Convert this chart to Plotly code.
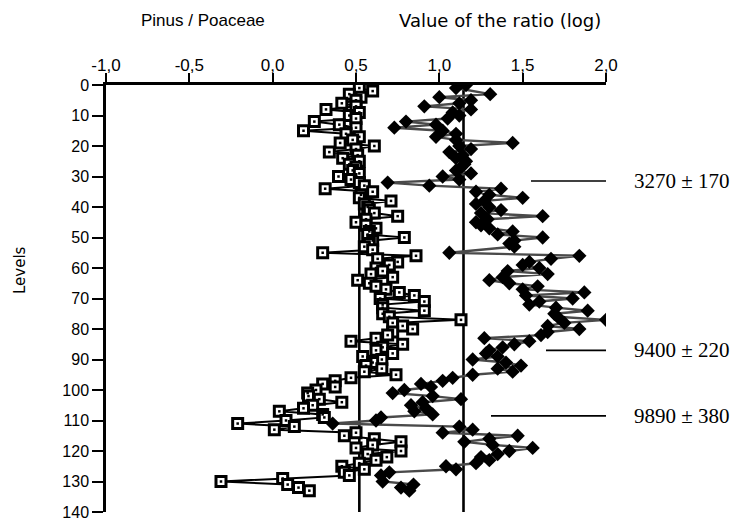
import plotly.graph_objects as go

# ---- data ----
SQ_LEVELS = [1, 2, 3, 4, 5, 6, 7, 8, 9, 10, 11, 12, 13, 14, 15, 16, 17, 18, 19, 20,
             21, 22, 23, 24, 25, 26, 27, 28, 29, 30, 31, 32, 33, 34, 35, 36, 37, 38, 39, 40,
             41, 42, 43, 44, 45, 46, 47, 48, 49, 50, 51, 52, 53, 54, 55, 56, 57, 58, 59, 60,
             61, 62, 63, 64, 65, 66, 67, 68, 69, 70, 71, 72, 73, 74, 75, 76, 77, 78, 79, 80,
             81, 82, 83, 84, 85, 86, 87, 88, 89, 90, 91, 92, 93, 94, 95, 96, 97, 98, 99, 100,
             101, 102, 103, 104, 105, 106, 107, 108, 109, 110, 111, 112, 113, 114, 115, 116,
             117, 118, 119, 120, 121, 122, 123, 124, 125, 126, 127, 128, 129, 130, 131, 132, 133]
SQ_VALUES = [0.52, 0.60, 0.46, 0.53, 0.50, 0.415, 0.50, 0.32, 0.52, 0.46,
             0.50, 0.25, 0.40, 0.50, 0.185, 0.44, 0.52, 0.48, 0.405, 0.61,
             0.50, 0.34, 0.51, 0.42, 0.52, 0.46, 0.50, 0.48, 0.52, 0.395,
             0.47, 0.52, 0.55, 0.315, 0.60, 0.53, 0.52, 0.71, 0.55, 0.57,
             0.58, 0.61, 0.75, 0.56, 0.50, 0.56, 0.62, 0.58, 0.57, 0.79,
             0.60, 0.58, 0.55, 0.60, 0.30, 0.86, 0.63, 0.75, 0.70, 0.62,
             0.66, 0.59, 0.72, 0.51, 0.58, 0.62, 0.68, 0.76, 0.85, 0.645,
             0.91, 0.66, 0.66, 0.91, 0.66, 0.70, 1.13, 0.72, 0.78, 0.84,
             0.72, 0.69, 0.62, 0.47, 0.78, 0.66, 0.62, 0.72, 0.54, 0.655,
             0.60, 0.56, 0.655, 0.55, 0.74, 0.47, 0.375, 0.30, 0.375, 0.26,
             0.21, 0.215, 0.28, 0.415, 0.24, 0.185, 0.04, 0.30, 0.31, 0.08,
             -0.21, 0.13, 0.01, 0.50, 0.43, 0.61, 0.77, 0.60, 0.50, 0.77,
             0.57, 0.685, 0.62, 0.52, 0.415, 0.55, 0.43, 0.46, 0.06, -0.31,
             0.09, 0.155, 0.22]

DI_LEVELS = [0, 1, 3, 4, 5, 6, 7, 8, 9, 10, 11, 12, 13, 14, 15, 16, 17, 18, 19, 20,
             21, 22, 23, 24, 25, 26, 27, 28, 29, 30, 31, 32, 33, 34, 35, 36, 37, 38, 39, 40,
             41, 42, 43, 44, 45, 46, 47, 48, 49, 50, 51, 52, 53, 55, 56, 57, 58, 59, 60,
             61, 62, 63, 64, 65, 66, 67, 68, 69, 70, 71, 72, 73, 74, 75, 76, 77, 78, 79, 80,
             81, 82, 83, 84, 85, 86, 87, 88, 89, 90, 91, 92, 93, 94, 95, 96, 97, 98, 99, 100,
             101, 102, 103, 104, 105, 106, 107, 108, 109, 110, 111, 112, 113, 114, 115, 116,
             117, 118, 119, 120, 121, 122, 123, 124, 125, 126, 127, 128, 130, 131, 132, 133]
DI_VALUES = [1.16, 1.10, 1.305, 1.00, 1.19, 1.12, 0.91, 1.19, 1.08, 1.12,
             1.05, 0.80, 0.98, 0.73, 1.02, 1.10, 0.98, 1.10, 1.44, 1.12,
             1.19, 1.06, 1.14, 1.10, 1.16, 1.15, 1.13, 1.10, 1.19, 1.02,
             1.12, 0.69, 0.94, 1.37, 1.22, 1.30, 1.50, 1.27, 1.22, 1.30,
             1.37, 1.25, 1.62, 1.29, 1.22, 1.25, 1.30, 1.44, 1.35, 1.62,
             1.45, 1.42, 1.45, 1.06, 1.84, 1.67, 1.54, 1.50, 1.60,
             1.41, 1.65, 1.38, 1.30, 1.42, 1.59, 1.50, 1.87, 1.52, 1.80,
             1.60, 1.54, 1.70, 1.89, 1.69, 1.71, 2.00, 1.75, 1.65, 1.84,
             1.65, 1.61, 1.27, 1.54, 1.45, 1.38, 1.30, 1.28, 1.35, 1.20,
             1.40, 1.49, 1.35, 1.44, 1.20, 1.08, 1.02, 0.89, 0.95, 0.79,
             0.72, 0.96, 1.13, 0.90, 0.83, 0.92, 0.85, 0.96, 0.65, 0.62,
             0.36, 1.12, 1.20, 1.02, 1.47, 1.30, 1.15, 1.32, 1.56, 1.42,
             1.35, 1.25, 1.30, 1.22, 1.04, 1.10, 0.70, 0.65, 0.66, 0.845,
             0.77, 0.82]

X_TICKS = [-1.0, -0.5, 0.0, 0.5, 1.0, 1.5, 2.0]
X_TICK_TEXT = ["-1,0", "-0,5", "0,0", "0,5", "1,0", "1,5", "2,0"]
Y_TICKS = [0, 10, 20, 30, 40, 50, 60, 70, 80, 90, 100, 110, 120, 130, 140]

MEAN_LINES = [0.52, 1.145]
DATE_TEXT = ["3270 \u00b1 170", "9400 \u00b1 220", "9890 \u00b1 380"]
DATE_LEVELS = [31.5, 87, 108.5]
DATE_STARTS = [1.55, 1.64, 1.31]

# ---- figure ----
W, H = 736, 522
ML, MR, MT, MB = 106, 130, 85, 10
PW, PH = W - ML - MR, H - MT - MB

fig = go.Figure()

# diamond series (line + markers)
fig.add_trace(go.Scatter(
    x=DI_VALUES, y=DI_LEVELS, mode="lines+markers",
    line=dict(color="#4a4a4a", width=2.4),
    marker=dict(symbol="diamond", size=11, color="black",
                line=dict(color="black", width=0)),
    hoverinfo="skip", showlegend=False))

# square series line
fig.add_trace(go.Scatter(
    x=SQ_VALUES, y=SQ_LEVELS, mode="lines",
    line=dict(color="black", width=2),
    hoverinfo="skip", showlegend=False))
# square markers: white box with thick black outline
fig.add_trace(go.Scatter(
    x=SQ_VALUES, y=SQ_LEVELS, mode="markers",
    marker=dict(symbol="square", size=10, color="white",
                line=dict(color="black", width=3)),
    hoverinfo="skip", showlegend=False))
# central dot
fig.add_trace(go.Scatter(
    x=SQ_VALUES, y=SQ_LEVELS, mode="markers",
    marker=dict(symbol="square", size=2.5, color="black", line=dict(width=0)),
    hoverinfo="skip", showlegend=False))

shapes = []
for xv in MEAN_LINES:
    shapes.append(dict(type="line", xref="x", yref="y", x0=xv, x1=xv, y0=0, y1=140.5,
                       line=dict(color="black", width=2.6), layer="below"))
for lv, xs in zip(DATE_LEVELS, DATE_STARTS):
    shapes.append(dict(type="line", xref="x", yref="y", x0=xs, x1=2.01, y0=lv, y1=lv,
                       line=dict(color="black", width=1.6)))

annotations = []
for txt, lv in zip(DATE_TEXT, DATE_LEVELS):
    annotations.append(dict(text=txt, xref="paper", yref="y", x=(632 - ML) / PW, y=lv,
                            xanchor="left", yanchor="middle", showarrow=False,
                            font=dict(family="Liberation Serif", size=21, color="black")))

annotations.append(dict(text="Pinus / Poaceae", xref="paper", yref="paper",
                        x=(203 - ML) / PW, y=1 + (MT - 20) / PH, xanchor="center",
                        yanchor="middle", showarrow=False,
                        font=dict(family="Liberation Sans", size=17, color="black")))
annotations.append(dict(text="Value of the ratio (log)", xref="paper", yref="paper",
                        x=(500 - ML) / PW, y=1 + (MT - 20) / PH, xanchor="center",
                        yanchor="middle", showarrow=False,
                        font=dict(family="DejaVu Sans", size=18, color="black")))
annotations.append(dict(text="Levels", xref="paper", yref="paper",
                        x=(20 - ML) / PW, y=1 - (270 - MT) / PH, xanchor="center",
                        yanchor="middle", textangle=-90, showarrow=False,
                        font=dict(family="DejaVu Sans", size=15, color="black")))

fig.update_layout(
    width=W, height=H,
    margin=dict(l=ML, r=MR, t=MT, b=MB, autoexpand=False),
    paper_bgcolor="white", plot_bgcolor="white",
    shapes=shapes, annotations=annotations,
    xaxis=dict(range=[-1.0, 2.0], side="top", tickvals=X_TICKS, ticktext=X_TICK_TEXT,
               ticks="outside", ticklen=9, tickwidth=2, tickcolor="black",
               ticklabelstandoff=-5, automargin=False,
               showline=True, linecolor="black", linewidth=2.5,
               showgrid=False, zeroline=False,
               tickfont=dict(family="Liberation Sans", size=17, color="black")),
    yaxis=dict(range=[140, 0], tickvals=Y_TICKS, ticks="outside", ticklen=11,
               tickwidth=2, tickcolor="black", showline=True, linecolor="black",
               linewidth=2.5, showgrid=False, zeroline=False, automargin=False,
               tickfont=dict(family="Liberation Sans", size=16, color="black")),
)

fig.write_html("out.html", config={"displayModeBar": False},
               post_script="document.body.style.margin='0';document.body.style.padding='0';")
